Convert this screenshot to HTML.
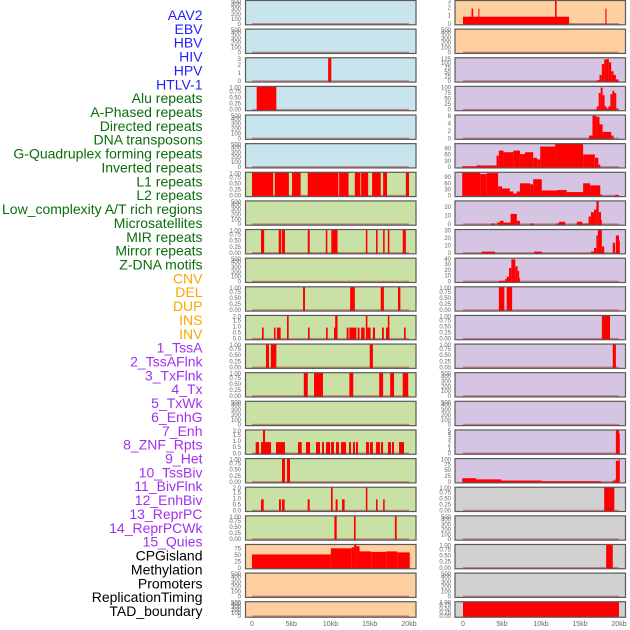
<!DOCTYPE html>
<html><head><meta charset="utf-8">
<style>
html,body{margin:0;padding:0;background:#fff;}
svg{display:block;font-family:"Liberation Sans",sans-serif;}
</style></head>
<body>
<svg id="chart" width="630" height="630" viewBox="0 0 630 630" xmlns="http://www.w3.org/2000/svg"></svg>
<script>
// ---------- data ----------
const labels = ["AAV2","EBV","HBV","HIV","HPV","HTLV-1","Alu repeats","A-Phased repeats","Directed repeats","DNA transposons","G-Quadruplex forming repeats","Inverted repeats","L1 repeats","L2 repeats","Low_complexity A/T rich regions","Microsatellites","MIR repeats","Mirror repeats","Z-DNA motifs","CNV","DEL","DUP","INS","INV","1_TssA","2_TssAFlnk","3_TxFlnk","4_Tx","5_TxWk","6_EnhG","7_Enh","8_ZNF_Rpts","9_Het","10_TssBiv","11_BivFlnk","12_EnhBiv","13_ReprPC","14_ReprPCWk","15_Quies","CPGisland","Methylation","Promoters","ReplicationTiming","TAD_boundary"];
const labelGroups = [6,13,5,15,5];
const groupColors = ["#1f1fff","#0a6e0a","#ffa500","#a030f0","#000000"];
const xTickValues = [0,5,10,15,20];
const xTickLabels = ["0","5kb","10kb","15kb","20kb"];

// background per panel: b=blue g=green o=orange p=purple k=grey
const leftBg  = ["b","b","b","b","b","b","g","g","g","g","g","g","g","g","g","g","g","g","g","o","o","o"];
const rightBg = ["o","o","p","p","p","p","p","p","p","p","p","p","p","p","p","p","p","k","k","k","k","k"];
// y-axis max per panel
const leftYmax  = [500,500,3,1,500,500,1,500,1,500,1,2,1,1,500,2,1,2,1,95,500,500];
const rightYmax = [3,500,135,110,6.5,119,119,28,33,42,1,1,1,500,500,5,104,1,500,1,500,1];
// y tick labels per panel
const T500=["0","100","200","300","400","500"], T1=["0.00","0.25","0.50","0.75","1.00"], T2=["0.0","0.5","1.0","1.5","2.0"];
const leftTicks = [T500,T500,["0","1","2","3"],T1,T500,T500,T1,T500,T1,T500,T1,T2,T1,T1,T500,T2,T1,T2,T1,["0","25","50","75"],T500,T500];
const rightTicks = [["0","1","2","3"],T500,["0","25","50","75","100","125"],["0","25","50","75","100"],["0","2","4","6"],["0","30","60","90"],["0","30","60","90"],["0","10","20"],["0","10","20","30"],["0","10","20","30","40"],T1,T1,T1,T500,T500,["0","1","2","3","4","5"],["0","25","50","75","100"],T1,T500,T1,T500,T1];

// bar segments [startKb, endKb, value]
const leftBars = [
 [],[],
 [[9.7,10.1,3]],
 [[0.6,3.1,1]],
 [],[],
 [[0,2.7,1],[2.9,4.7,1],[5.1,6.2,1],[7.1,11,1],[11.1,12.3,1],[13.1,13.8,1],[13.9,14.8,1],[15.3,16.4,1],[16.7,17.2,1],[19.6,20,1]],
 [],
 [[1.15,1.55,1],[3.4,3.7,1],[3.8,4.2,1],[7.1,7.35,1],[9.4,9.6,1],[10.1,10.7,1],[10.7,10.9,1],[14.5,14.7,1],[15.8,16,1],[16.7,16.9,1],[17.3,17.5,1],[19.2,19.6,1]],
 [],
 [[6.5,6.75,1],[12.5,12.8,1],[12.8,13.1,1],[16.4,16.8,1],[18.6,18.9,1]],
 [[1.27,1.49,1],[2.8,3.0,1],[3.18,3.65,1],[4.46,4.67,2],[7.13,7.35,1],[9.43,9.64,1],[10.45,10.66,1],[10.6,10.9,2],[12.06,12.3,1],[12.4,13.3,1],[13.46,13.7,1],[13.9,14.35,1],[14.5,14.7,2],[14.7,15.1,1],[15.4,15.67,1],[16.56,16.8,1],[17.07,17.5,1],[17.3,17.5,2],[19.36,19.58,1]],
 [[1.78,2.16,1],[2.4,3.1,1],[15.0,15.4,1]],
 [[6.6,7.1,1],[7.9,9.04,1],[12.4,12.9,1],[16.2,16.7,1],[17.6,18.1,1],[19.2,19.9,1]],
 [],
 [[0.47,0.89,1],[1.15,2.42,1],[1.4,1.66,2],[3.06,4.2,1],[5.86,6.33,1],[6.88,7.39,1],[8.15,8.66,1],[8.92,9.17,1],[9.43,9.94,1],[10.06,10.45,1],[10.7,11.08,1],[11.34,11.97,1],[12.36,12.61,1],[12.87,13.12,1],[13.25,13.5,1],[14.52,14.9,1],[15.03,15.4,1],[15.8,16.3,1],[16.43,16.69,1],[17.32,17.7,1],[17.83,18.09,1],[18.73,19.36,1]],
 [[3.82,4.2,1],[4.46,4.84,1]],
 [[1.15,1.49,1],[3.44,3.69,1],[3.82,4.16,1],[7.09,7.35,1],[10.06,10.28,2],[10.66,10.9,1],[11.46,11.8,1],[14.5,14.7,2],[15.8,16.0,1],[16.7,16.9,1]],
 [[10.49,10.79,1],[12.99,13.2,1],[18.2,18.43,1]],
 [[0,10.05,56],[10.05,12.7,80],[12.7,13.0,84],[13.0,13.3,95],[13.3,13.7,88],[13.7,15.2,68],[15.2,17.1,66],[17.1,18.5,68],[18.5,20.1,64]],
 [],[]
];
const rightBars = [
 [[0,13.6,1],[1.1,1.3,2],[1.97,2.1,2],[11.8,12.0,3],[18.25,18.4,2]],
 [],
 [[16.9,17.2,5],[17.2,17.5,10],[17.5,17.8,40],[17.8,18.1,100],[18.1,18.4,125],[18.4,18.7,128],[18.7,19.0,110],[19.0,19.3,60],[19.3,19.6,40],[19.6,19.9,15],[19.9,20.1,5]],
 [[16.9,17.15,5],[17.15,17.4,20],[17.4,17.65,80],[17.65,17.9,105],[17.9,18.15,70],[18.15,18.4,20],[18.4,18.65,10],[18.65,18.9,20],[18.9,19.15,75],[19.15,19.4,90],[19.4,19.65,80],[19.65,19.9,10]],
 [[16.15,16.6,1],[16.6,17.1,6.3],[17.1,17.5,6],[17.5,17.9,4],[17.9,19.0,2],[19.0,19.3,1]],
 [[-0.1,1.75,8],[1.75,2.2,13],[2.2,4.3,12],[4.3,4.6,60],[4.6,5.2,85],[5.2,6.45,77],[6.45,7.3,85],[7.3,7.95,68],[7.95,9.0,77],[9.0,9.5,50],[9.5,9.9,42],[9.9,11.8,105],[11.8,15.4,118],[15.4,16.9,66],[16.9,17.35,50],[17.35,17.6,17]],
 [[-0.1,2.2,118],[2.2,3.05,110],[3.05,4.5,115],[4.5,5.0,50],[5.0,6.0,40],[6.0,6.45,25],[6.45,6.9,15],[6.9,7.3,25],[7.3,8.6,65],[8.6,9.0,60],[9.0,10.1,85],[10.1,12.0,30],[12.0,13.3,32],[13.3,14.15,22],[14.15,15.4,22],[15.4,16.3,65],[16.3,17.6,55],[17.6,17.8,10],[19.5,20.0,8]],
 [[3.6,4.1,2],[4.36,4.7,3],[4.7,5.2,5],[5.2,6.1,3],[6.1,6.9,13],[6.9,7.3,5],[8.6,9.1,2],[11.9,12.3,2],[12.3,13.1,4],[14.6,15.3,4],[15.3,15.6,2],[15.7,16.1,2],[16.1,16.4,10],[16.4,16.8,15],[16.8,17.1,18],[17.1,17.4,28],[17.4,17.7,15],[17.7,17.8,6]],
 [[2.4,4.1,3],[9.1,10.1,3],[16.4,16.8,3],[16.8,17.1,8],[17.1,17.3,25],[17.3,17.8,35],[17.8,18.1,10],[19.2,19.5,15],[19.6,20.0,25],[20.0,20.1,18]],
 [[4.6,5.4,3],[5.4,5.6,6],[5.6,5.9,10],[5.9,6.2,25],[6.2,6.7,40],[6.7,7.0,28],[7.0,7.2,20],[7.2,7.3,8]],
 [[4.6,5.3,1],[5.6,6.3,1]],
 [[17.8,18.85,1]],
 [[19.2,19.6,1]],
 [],[],
 [[19.6,20.0,5],[20.0,20.1,4.3]],
 [[-0.1,1.7,20],[1.7,4.9,15],[4.9,10.1,10],[10.1,17.7,7],[17.7,19.2,1],[19.2,19.5,10],[19.5,19.6,15],[19.6,20.0,95],[20.0,20.1,100]],
 [[18.1,19.4,1]],
 [],
 [[18.35,19.2,1]],
 [],
 [[0,20,1]]
];

// ---------- layout ----------
const svg = document.getElementById('chart');
const NS = 'http://www.w3.org/2000/svg';
const bgColors = {b:"#c8e4ec",g:"#c9e1a5",o:"#fecf9f",p:"#d5c5e2",k:"#d1d1d1"};
const cols = [{x0:245.5,x1:416,k0:252,kpx:7.85,tickX:241},{x0:455,x1:625.5,k0:463,kpx:7.8,tickX:451}];
function rowTop(i){return 0.5 + i*28.63;}
function rowH(i){return i===21?15.5:24.3;}
function xScale(c,kb){return c.k0 + kb*c.kpx;}
function yScale(top,h,ymax,v){return top+h - (v/ymax)*h;}
function mk(tag,attrs,parent){const e=document.createElementNS(NS,tag);for(const k in attrs)e.setAttribute(k,attrs[k]);(parent||svg).appendChild(e);return e;}

// labels
let li=0;
labelGroups.forEach((n,g)=>{for(let j=0;j<n;j++){
  const t=mk('text',{x:202.5,y:15+li*13.86,'text-anchor':'end','dominant-baseline':'central','font-size':'14',fill:groupColors[g]});
  t.textContent=labels[li];
  
  
  li++;}});

function drawPanel(ci,ri,bg,ymax,ticks,bars){
  const c=cols[ci], top=rowTop(ri), h=rowH(ri);
  const g=mk('g',{});
  
  
  mk('rect',{x:c.x0,y:top,width:c.x1-c.x0,height:h,fill:bgColors[bg]},g);
  // baseline strip
  const bl=mk('rect',{x:xScale(c,0),y:top+h-1.8,width:xScale(c,20)-xScale(c,0),height:1.8,fill:'rgba(170,30,30,0.45)'},g);
  
  
  bars.forEach(b=>{
    const x=xScale(c,b[0]), w=xScale(c,b[1])-x, y=yScale(top,h,ymax,Math.min(b[2],ymax));
    const r=mk('rect',{x:x,y:y,width:Math.max(w,0.8),height:top+h-y,fill:'#ff0000'},g);
    
    
  });
  const f=mk('rect',{x:c.x0,y:top,width:c.x1-c.x0,height:h,fill:'none',stroke:'#5a5a5a','stroke-width':1.2},g);
  
  
  // ticks
  const n=ticks.length;
  const tmax=parseFloat(ticks[n-1]);
  ticks.forEach((tl)=>{
    const v=parseFloat(tl);
    const y=yScale(top,h,ymax,v);
    const t=mk('text',{x:c.tickX,y:Math.max(y,top+2),'text-anchor':'end','dominant-baseline':'central','font-size':'6',fill:'#666'},g);
    t.textContent=tl;
    
    
  });
}
for(let r=0;r<22;r++){
  drawPanel(0,r,leftBg[r],leftYmax[r],leftTicks[r],leftBars[r]);
  drawPanel(1,r,rightBg[r],rightYmax[r],rightTicks[r],rightBars[r]);
}
// x ticks
cols.forEach((c,ci)=>{xTickValues.forEach((v,i)=>{
  const t=mk('text',{x:xScale(c,v),y:626,'text-anchor':'middle','font-size':'7',fill:'#666'});
  t.textContent=xTickLabels[i];
  
  
});});
</script>
</body></html>
